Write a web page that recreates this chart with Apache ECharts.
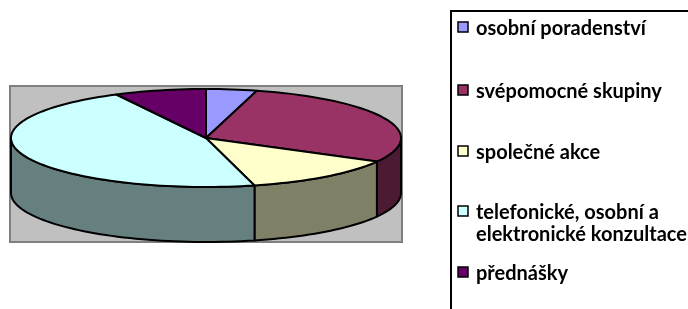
<!DOCTYPE html>
<html>
<head>
  <meta charset="UTF-8"/>
  <title></title>
  <script src="https://cdn.jsdelivr.net/npm/echarts@6/dist/echarts.min.js"></script>
  <style>
    html, body { margin: 0; padding: 0; background: #fff; }
    #main { width: 688px; height: 309px; }
  </style>
</head>
<body>
<div id="main"></div>
<script type="text/javascript">
    // data
    const categories = ['osobní poradenství', 'svépomocné skupiny', 'společné akce',
        'telefonické, osobní a\nelektronické konzultace', 'přednášky'];
    const values = [4.2, 28.8, 13.0, 46.4, 7.6];
    const topColors = ['#9999FF', '#993366', '#FFFFCC', '#CCFFFF', '#660066'];
    const sideColors = ['#4D4D80', '#4D1A33', '#808066', '#668080', '#330033'];

    // geometry of the 3d pie
    const cx = 206, cy = 138, rx = 195, ry = 49, depth = 55;
    const total = values.reduce((a, b) => a + b, 0);

    function pt(deg, dy) {
        const r = deg * Math.PI / 180;
        return [cx + rx * Math.sin(r), cy - ry * Math.cos(r) + (dy || 0)];
    }

    function arc(a0, a1, dy) {
        const pts = [];
        const n = Math.max(2, Math.ceil((a1 - a0) / 2));
        for (let k = 0; k <= n; k++) {
            pts.push(pt(a0 + (a1 - a0) * k / n, dy));
        }
        return pts;
    }

    function renderItem(params, api) {
        const i = params.dataIndex;
        let before = 0;
        for (let k = 0; k < i; k++) before += values[k];
        const a0 = before / total * 360;
        const a1 = (before + api.value(0)) / total * 360;
        const children = [];
        // front wall
        const s0 = Math.max(a0, 90), s1 = Math.min(a1, 270);
        if (s1 > s0) {
            const top = arc(s0, s1, 0);
            const bottom = arc(s0, s1, depth).reverse();
            children.push({
                type: 'polygon',
                shape: {points: top.concat(bottom)},
                style: {fill: sideColors[i], stroke: '#000', lineWidth: 2, lineJoin: 'round'}
            });
        }
        // top face
        children.push({
            type: 'polygon',
            shape: {points: [[cx, cy]].concat(arc(a0, a1, 0))},
            style: {fill: topColors[i], stroke: '#000', lineWidth: 2, lineJoin: 'round'}
        });
        return {type: 'group', children: children};
    }

    // legend drawn as graphic, rows like the original
    const rowY = [30, 93, 154, 214, 275];
    const legendEls = [{
        type: 'rect',
        shape: {x: 451, y: 11, width: 300, height: 320},
        style: {fill: '#fff', stroke: '#000', lineWidth: 2}
    }];
    categories.forEach((name, i) => {
        legendEls.push({
            type: 'rect',
            shape: {x: 458, y: rowY[i] - 8, width: 10, height: 10},
            style: {fill: topColors[i], stroke: '#000', lineWidth: 1.5}
        });
        legendEls.push({
            type: 'text',
            x: 476,
            y: rowY[i] - 12,
            style: {
                text: name,
                fill: '#000',
                fontFamily: 'Lato',
                fontWeight: 'bold',
                fontSize: 20,
                lineHeight: 22,
                verticalAlign: 'top'
            }
        });
    });

    let myChart = echarts.init(document.getElementById('main'));
    let option = {
        backgroundColor: '#fff',
        animation: false,
        graphic: [{
            type: 'rect',
            z: -10,
            shape: {x: 10, y: 86, width: 392, height: 156},
            style: {fill: '#C0C0C0', stroke: '#808080', lineWidth: 2}
        }].concat(legendEls),
        series: [{
            type: 'custom',
            coordinateSystem: 'none',
            renderItem: renderItem,
            data: values.map((v, i) => ({value: v, name: categories[i]}))
        }]
    };
    myChart.setOption(option);
</script>
</body>
</html>
